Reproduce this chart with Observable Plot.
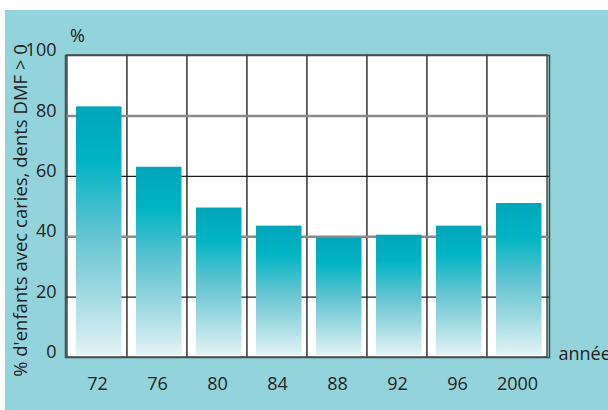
<!DOCTYPE html>
<html>
<head>
<meta charset="utf-8">
<script src="https://cdn.jsdelivr.net/npm/d3@7"></script>
<script src="https://cdn.jsdelivr.net/npm/@observablehq/plot@0.6"></script>
<style>
  html, body { margin: 0; padding: 0; background: #ffffff; }
  #wrap { position: relative; width: 608px; height: 410px; overflow: hidden; }
  #panel { position: absolute; left: 5px; top: 10px; width: 603px; height: 400px; background: #92d3dc; }
  #chart { position: absolute; left: 0; top: 0; }
  #chart svg { background: transparent; overflow: hidden; }
</style>
</head>
<body>
<div id="wrap"><div id="panel"></div><div id="chart"></div></div>
<script>
const years = ["72", "76", "80", "84", "88", "92", "96", "2000"];
const values = [83, 63, 49.5, 43.5, 39.5, 40.5, 43.5, 51];
const yTicks = [0, 20, 40, 60, 80, 100];
const blackGrid = [20, 60];
const grayGrid = [40, 80];
const yLabel = "% d'enfants avec caries, dents DMF > 0";
const unitLabel = "%";
const xLabel = "année";

const data = years.map((y, i) => ({year: y, value: values[i]}));
const ink = "#231f20";

const chart = Plot.plot({
  width: 608,
  height: 410,
  marginLeft: 65,
  marginRight: 59,
  marginTop: 55,
  marginBottom: 53,
  style: {fontFamily: "'Open Sans', sans-serif", fontSize: "18px", color: ink, background: "transparent"},
  x: {type: "band", domain: years, padding: 0, label: null, tickSize: 0, tickPadding: 20},
  y: {domain: [0, 100], ticks: yTicks, label: null, tickSize: 0, tickPadding: 9},
  marks: [
    Plot.barY(years, {x: d => d, y1: 0, y2: 100, fill: "white", stroke: "#4a4a4a", strokeWidth: 1.5, insetLeft: 0, insetRight: 0}),
    Plot.ruleY(grayGrid, {stroke: "#8a8a8a", strokeWidth: 2.5}),
    Plot.ruleY(blackGrid, {stroke: "#1a1a1a", strokeWidth: 1.2}),
    Plot.barY(data, {x: "year", y1: 0, y2: "value", fill: "url(#barGrad)", insetLeft: 9, insetRight: 5.5, insetBottom: 2}),
    Plot.frame({stroke: "#4a4a4a", strokeWidth: 1.5}),
    Plot.axisY({ticks: yTicks, tickSize: 0, tickPadding: 9, dy: -5, fontSize: 18, label: null}),
    Plot.axisX({tickSize: 0, tickPadding: 20, fontSize: 18, label: null}),
    Plot.text([unitLabel], {frameAnchor: "top-left", dx: 12, dy: -19, fontSize: 18, fill: ink, textAnchor: "middle", lineAnchor: "middle"}),
    Plot.text([yLabel], {frameAnchor: "left", rotate: -90, dx: -39, dy: 4, fontSize: 18.5, fill: ink, textAnchor: "middle", lineAnchor: "bottom"}),
    Plot.text([xLabel], {frameAnchor: "bottom-right", dx: 9, dy: 2, textAnchor: "start", lineAnchor: "bottom", fontSize: 18, fill: ink})
  ]
});

const svg = d3.select(chart);
const defs = svg.insert("defs", ":first-child");
const grad = defs.append("linearGradient").attr("id", "barGrad")
  .attr("x1", 0).attr("y1", 0).attr("x2", 0).attr("y2", 1);
[[0, "#00a6b9"], [0.22, "#00b4c4"], [0.5, "#5ec3d0"], [0.75, "#9fd9e1"], [1, "#e3f3f6"]]
  .forEach(([o, c]) => grad.append("stop").attr("offset", o).attr("stop-color", c));

document.getElementById("chart").appendChild(chart);
</script>
</body>
</html>
